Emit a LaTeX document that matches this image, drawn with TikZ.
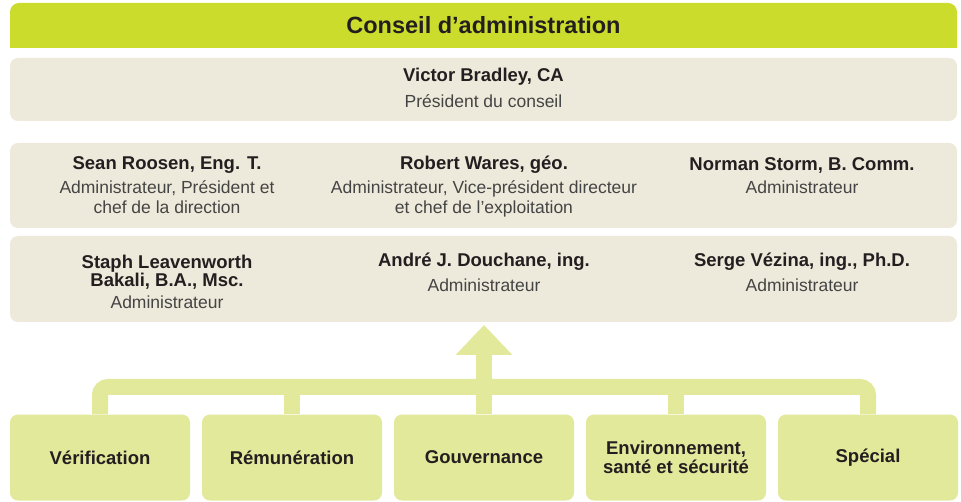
\documentclass[tikz,border=0pt]{standalone}
\usepackage{fontspec}
\setmainfont{Liberation Sans}
\usetikzlibrary{arrows.meta}
\definecolor{lime}{HTML}{CCDC2C}
\definecolor{beige}{HTML}{EEEADB}
\definecolor{pale}{HTML}{E3E99B}
\definecolor{ink}{HTML}{231F20}
\definecolor{rolegray}{HTML}{444444}
\begin{document}
\begin{tikzpicture}[x=1pt,y=-1pt,
  panel/.style={fill=beige, rounded corners=8pt, draw=none, inner sep=0pt, minimum width=947pt},
  pname/.style={font=\bfseries\fontsize{18.5}{18}\selectfont, text=ink, align=center, inner sep=0pt},
  prole/.style={font=\fontsize{17.5}{20}\selectfont, text=rolegray, align=center, inner sep=0pt},
  cmte/.style={fill=pale, rounded corners=8pt, minimum width=180pt, minimum height=86pt, inner sep=0pt,
    font=\bfseries\fontsize{18.5}{19.5}\selectfont, text=ink, align=center},
  link/.style={draw=pale, line width=16pt}]
\useasboundingbox (0,0) rectangle (961,502);
% header
\node[fill=lime, rounded corners=9pt, minimum width=947pt, minimum height=45pt, inner sep=0pt] (hdr) at (483.5,25.5) {};
\fill[lime] (hdr.west) rectangle (hdr.south east);
\node[font=\bfseries\fontsize{23.5}{26}\selectfont, text=ink] (hdrt) at (483.5,25) {Conseil d’administration};
% chair
\node[panel, minimum height=63pt] (chair) at (483.5,89.5) {};
\node[pname] (vb) at (483.5,77) {Victor Bradley, CA};
\node[prole] (vbr) at (483.5,101.5) {Président du conseil};
% row 2
\node[panel, minimum height=85pt] (row2) at (483.5,185.5) {};
\node[pname] (sr) at (167,165) {Sean Roosen, Eng. T.};
\node[prole, anchor=north] (srr) at (167,180.5) {Administrateur, Président et\\chef de la direction};
\node[pname] (rw) at (484,165) {Robert Wares, géo.};
\node[prole, anchor=north] (rwr) at (484,180.5) {Administrateur, Vice-président directeur\\et chef de l’exploitation};
\node[pname] (ns) at (802,165) {Norman Storm, B. Comm.};
\node[prole, anchor=north] (nsr) at (802,180.5) {Administrateur};
% row 3
\node[panel, minimum height=86pt] (row3) at (483.5,279) {};
\node[pname, anchor=north] (sl) at (167,254.5) {Staph Leavenworth\\Bakali, B.A., Msc.};
\node[prole] (slr) at (167,302.5) {Administrateur};
\node[pname] (ad) at (484,262) {André J. Douchane, ing.};
\node[prole] (adr) at (484,285.5) {Administrateur};
\node[pname] (sv) at (802,262) {Serge Vézina, ing., Ph.D.};
\node[prole] (svr) at (802,285.5) {Administrateur};
% committees
\node[cmte] (ver) at (100,457.5) {Vérification};
\node[cmte] (rem) at (292,457.5) {Rémunération};
\node[cmte] (gov) at (484,457.5) {Gouvernance};
\node[cmte] (env) at (676,457.5) {Environnement,\\santé et sécurité};
\node[cmte] (spe) at (868,457.5) {Spécial};
% connectors
\coordinate (bar) at (0,387);
\coordinate (tip) at (484,325);
\draw[link, rounded corners=8pt] (ver.north) -- (ver.north |- bar) -- (spe.north |- bar) -- (spe.north);
\draw[link] (rem.north) -- (rem.north |- bar);
\draw[link] (env.north) -- (env.north |- bar);
\draw[link, -{Triangle[width=55pt, length=30pt]}] (gov.north) -- (tip);
\end{tikzpicture}
\end{document}
